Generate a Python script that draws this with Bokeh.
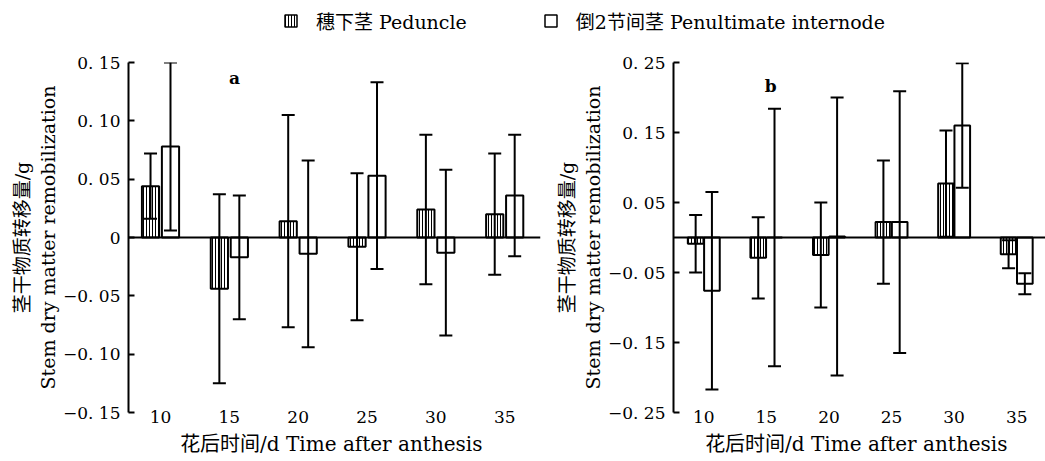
from bokeh.plotting import figure
from bokeh.models import (ColumnDataSource, Whisker, TeeHead, Span, Label,
                          FixedTicker, Range1d, Legend, LegendItem)
from bokeh.layouts import column, row
from bokeh.embed import file_html
from bokeh.resources import INLINE

# ---------------- data ----------------
days = ["10", "15", "20", "25", "30", "35"]

# panel a
a_peduncle = [0.044, -0.044, 0.014, -0.008, 0.024, 0.020]
a_peduncle_err = [0.028, 0.081, 0.091, 0.063, 0.064, 0.052]
a_penult = [0.078, -0.017, -0.014, 0.053, -0.013, 0.036]
a_penult_err = [0.072, 0.053, 0.080, 0.080, 0.071, 0.052]

# panel b
b_peduncle = [-0.009, -0.029, -0.025, 0.022, 0.077, -0.024]
b_peduncle_err = [0.041, 0.058, 0.075, 0.088, 0.076, 0.020]
b_penult = [-0.076, 0.000, 0.0015, 0.022, 0.160, -0.066]
b_penult_err = [0.141, 0.184, 0.1985, 0.187, 0.089, 0.015]

a_ticks = [-0.15, -0.10, -0.05, 0, 0.05, 0.10, 0.15]
a_tick_labels = ["−0. 15", "−0. 10", "−0. 05", "0", "0. 05", "0. 10", "0. 15"]
b_ticks = [-0.25, -0.15, -0.05, 0.05, 0.15, 0.25]
b_tick_labels = ["−0. 25", "−0. 15", "−0. 05", "0. 05", "0. 15", "0. 25"]

y_title = "茎干物质转移量/g\nStem dry matter remobilization"
x_title = "花后时间/d  Time after anthesis"
legend_labels = ["穗下茎 Peduncle", "倒2节间茎 Penultimate internode"]

FONT = "'DejaVu Serif', 'Noto Sans CJK SC'"
INK = "black"
NAN = float("nan")


def make_panel(ped, ped_err, pen, pen_err, ticks, tick_labels, yr, xr,
               width, border_left, border_top, border_right, offset,
               panel_letter, letter_pos):
    idx = list(range(len(days)))
    src = ColumnDataSource(dict(
        xp=[i - offset for i in idx],
        xq=[i + offset for i in idx],
        ped=ped, pen=pen,
        ped_lo=[v - e for v, e in zip(ped, ped_err)],
        ped_hi=[v + e for v, e in zip(ped, ped_err)],
        pen_lo=[v - e for v, e in zip(pen, pen_err)],
        pen_hi=[v + e for v, e in zip(pen, pen_err)],
    ))
    p = figure(width=width, height=421, x_range=Range1d(*xr), y_range=Range1d(*yr),
               toolbar_location=None, output_backend="svg",
               min_border_left=border_left, min_border_right=border_right,
               min_border_top=border_top, min_border_bottom=49,
               outline_line_color=None)
    p.grid.visible = False

    p.vbar(x="xp", top="ped", bottom=0, width=0.25, source=src,
           fill_color="white", line_color=INK, line_width=2,
           hatch_pattern="vertical_line", hatch_scale=3, hatch_weight=1,
           hatch_color=INK)
    p.vbar(x="xq", top="pen", bottom=0, width=0.25, source=src,
           fill_color="white", line_color=INK, line_width=2)

    for base, lo, hi in (("xp", "ped_lo", "ped_hi"), ("xq", "pen_lo", "pen_hi")):
        w = Whisker(base=base, lower=lo, upper=hi, source=src, level="overlay",
                    line_width=2, line_color=INK,
                    upper_head=TeeHead(size=13, line_width=2, line_color=INK),
                    lower_head=TeeHead(size=13, line_width=2, line_color=INK))
        p.add_layout(w)

    p.add_layout(Span(location=0, dimension="width", line_color=INK,
                      line_width=2, level="overlay"))

    # y axis
    ya = p.yaxis[0]
    ya.ticker = FixedTicker(ticks=ticks)
    ya.major_label_overrides = {t: l for t, l in zip(ticks, tick_labels)}
    ya.minor_tick_line_color = None
    ya.major_tick_in = 6
    ya.major_tick_out = 0
    ya.major_tick_line_width = 2
    ya.major_tick_line_color = INK
    ya.axis_line_width = 2
    ya.axis_line_color = INK
    ya.major_label_standoff = 8
    ya.major_label_text_font = FONT
    ya.major_label_text_font_size = "17px"
    ya.major_label_text_color = INK
    ya.axis_label = y_title
    ya.axis_label_text_font = FONT
    ya.axis_label_text_font_size = "19px"
    ya.axis_label_text_font_style = "normal"
    ya.axis_label_text_color = INK
    ya.axis_label_standoff = 1

    # x axis
    xa = p.xaxis[0]
    xa.ticker = FixedTicker(ticks=list(range(len(days))))
    xa.major_label_overrides = {i: d for i, d in enumerate(days)}
    xa.axis_line_color = None
    xa.major_tick_line_color = None
    xa.minor_tick_line_color = None
    xa.major_tick_out = 0
    xa.major_tick_in = 0
    xa.major_label_standoff = -2
    xa.major_label_text_font = FONT
    xa.major_label_text_font_size = "17px"
    xa.major_label_text_color = INK
    xa.axis_label = x_title
    xa.axis_label_text_font = FONT
    xa.axis_label_text_font_size = "20px"
    xa.axis_label_text_font_style = "normal"
    xa.axis_label_text_color = INK
    xa.axis_label_standoff = 6

    p.add_layout(Label(x=letter_pos[0], y=letter_pos[1], text=panel_letter,
                       text_font=FONT, text_font_style="bold", text_color=INK,
                       text_font_size="17px", text_align="center",
                       text_baseline="middle"))
    return p


pa = make_panel(a_peduncle, a_peduncle_err, a_penult, a_penult_err,
                a_ticks, a_tick_labels, (-0.15, 0.15), (-0.465, 5.52),
                548, 128, 22, 8, 0.145, "a", (1.075, 0.137))
pb = make_panel(b_peduncle, b_peduncle_err, b_penult, b_penult_err,
                b_ticks, b_tick_labels, (-0.25, 0.25), (-0.484, 5.46),
                497, 125, 18, 0, 0.13, "b", (1.07, 0.217))

# legend strip (legend swatches only; their glyph data are NaN so nothing is plotted)
lf = figure(width=1045, height=40, x_range=(0, 1), y_range=(0, 1),
            toolbar_location=None, output_backend="svg", min_border=0,
            x_axis_location=None, y_axis_location=None, outline_line_color=None)
lf.grid.visible = False
r1 = lf.vbar(x=[NAN], top=[NAN], width=0.1, fill_color="white", line_color=INK,
             line_width=1.5, hatch_pattern="vertical_line", hatch_scale=3,
             hatch_weight=1, hatch_color=INK)
r2 = lf.vbar(x=[NAN], top=[NAN], width=0.1, fill_color="white", line_color=INK,
             line_width=1.5)
leg = Legend(items=[LegendItem(label=legend_labels[0], renderers=[r1]),
                    LegendItem(label=legend_labels[1], renderers=[r2])],
             orientation="horizontal", location=(283, 6),
             glyph_width=15, glyph_height=15, label_standoff=18, spacing=76,
             padding=0, margin=0, border_line_color=None,
             background_fill_alpha=0, label_text_font=FONT,
             label_text_font_size="19px", label_text_color=INK)
lf.add_layout(leg)

layout = column(lf, row(pa, pb))
open("out.html", "w").write(file_html(layout, INLINE))
